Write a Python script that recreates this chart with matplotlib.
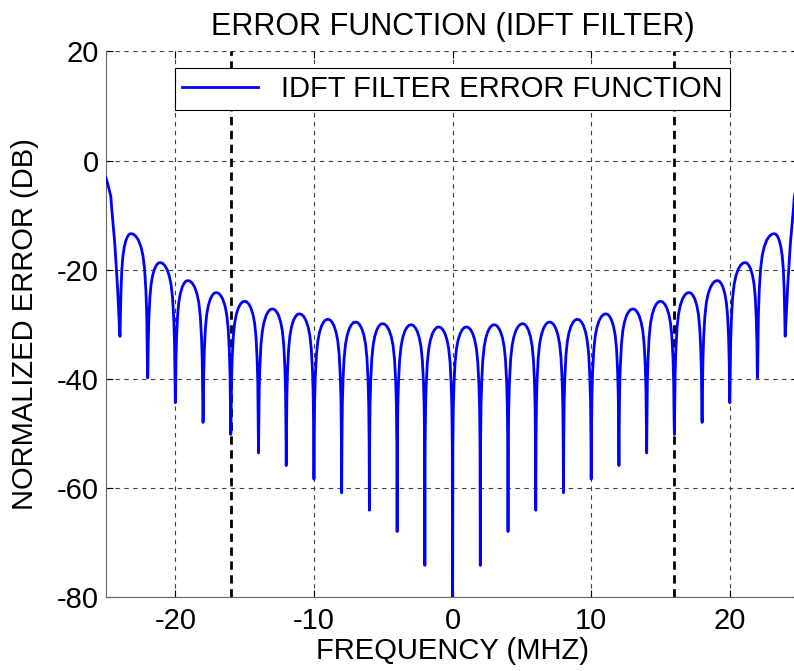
import numpy as np
import matplotlib
matplotlib.use('Agg')
from matplotlib import pyplot as plt

plt.rcParams['font.family'] = ['Liberation Sans', 'DejaVu Sans']
plt.rcParams['axes.unicode_minus'] = False

# nulls of the error function (MHz, dB)
null_freq = [-24, -22, -20, -18, -16, -14, -12, -10, -8, -6, -4, -2, 0,
             2, 4, 6, 8, 10, 12, 14, 16, 18, 20, 22, 24]
null_db = [-32.2, -39.8, -44.4, -48.0, -50.2, -53.6, -55.9, -58.4, -60.9, -64.1, -68.0, -74.2, -90.0,
           -74.2, -68.0, -64.1, -60.9, -58.4, -55.9, -53.6, -50.2, -48.0, -44.4, -39.8, -32.2]

# lobe peaks
peak_freq = [-23.2, -21.1, -19.1, -17.05, -15.0, -13.0, -11.05, -9.0, -7.0, -5.05, -3.0, -1.0,
             1.0, 3.0, 5.05, 7.0, 9.0, 11.05, 13.0, 15.0, 17.05, 19.1, 21.1, 23.2]
peak_db = [-13.4, -18.7, -22.0, -24.2, -25.8, -27.2, -28.1, -29.1, -29.6, -29.9, -30.1, -30.5,
           -30.5, -30.1, -29.9, -29.6, -29.1, -28.1, -27.2, -25.8, -24.2, -22.0, -18.7, -13.4]

# dB below peak, going from a null (0) to the peak (1)
lobe_pos = [0.02, 0.05, 0.1, 0.18, 0.28, 0.4, 0.55, 0.7, 0.85, 1.0]
lobe_drop = [22.0, 15.0, 10.5, 6.5, 4.0, 2.4, 1.2, 0.5, 0.1, 0.0]

# the two band edges
left_edge_freq = [-25.0, -24.85, -24.65, -24.6, -24.37, -24.17]
left_edge_db = [-3.2, -4.5, -6.6, -8.4, -15.1, -23.1]
right_edge_freq = [24.17, 24.37, 24.6, 24.65, 24.85, 25.0]
right_edge_db = [-23.1, -15.1, -8.4, -6.6, -4.5, -3.2]

band_edges = [-16, 16]

pos = np.array(lobe_pos)
drop = np.array(lobe_drop)

f = list(left_edge_freq)
e = list(left_edge_db)
for i in range(len(peak_freq)):
    # rising half: null i -> peak i
    f += [null_freq[i]] + list(null_freq[i] + pos * (peak_freq[i] - null_freq[i]))
    e += [null_db[i]] + list(np.maximum(null_db[i], peak_db[i] - drop))
    # falling half: peak i -> null i+1
    f += list((null_freq[i + 1] + pos * (peak_freq[i] - null_freq[i + 1]))[::-1][1:])
    e += list(np.maximum(null_db[i + 1], peak_db[i] - drop)[::-1][1:])
f += [null_freq[-1]] + right_edge_freq
e += [null_db[-1]] + right_edge_db

fs = 21

fig = plt.figure(figsize=(7.94, 6.71), dpi=100)
ax = fig.add_axes([0.1335, 0.1103, 0.873, 0.813])

ax.plot(f, e, color=(0, 0, 1), lw=2, label='IDFT FILTER ERROR FUNCTION', zorder=3)
for b in band_edges:
    ax.axvline(b, color='k', ls=(0, (3, 2)), lw=2, zorder=2)

ax.set_xlim(-25, 25)
ax.set_ylim(-80, 20)
ax.set_xticks([-20, -10, 0, 10, 20])
ax.set_yticks([-80, -60, -40, -20, 0, 20])
ax.grid(True, color='0.25', ls=(0, (4, 4)), lw=0.8)
ax.tick_params(direction='in', top=True, right=True, labelsize=fs, length=5)
ax.tick_params(axis='x', pad=7)
ax.tick_params(axis='y', pad=5)
ax.spines['top'].set_visible(False)
for s in ['left', 'bottom']:
    ax.spines[s].set_color('0.4')

ax.set_title('ERROR FUNCTION (IDFT FILTER)', fontsize=22, pad=12)
ax.set_xlabel('FREQUENCY (MHZ)', fontsize=fs, labelpad=2)
ax.set_ylabel('NORMALIZED ERROR (DB)', fontsize=fs, labelpad=13)

leg = ax.legend(loc='upper center', bbox_to_anchor=(0.5, 0.97), fontsize=fs, fancybox=False,
                edgecolor='k', framealpha=1, borderpad=0.25, handlelength=2.6, borderaxespad=0)
leg.get_frame().set_linewidth(0.8)

fig.savefig('out.png', dpi=100)
